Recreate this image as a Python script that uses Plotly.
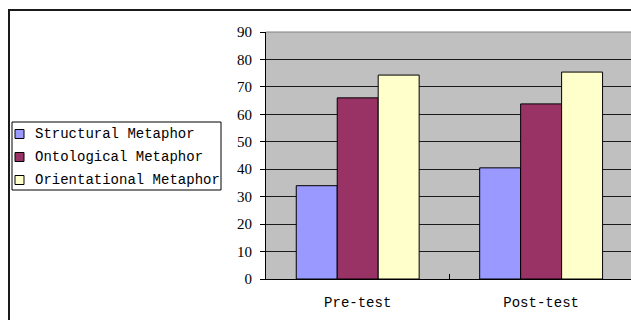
import plotly.graph_objects as go

categories = ["Pre-test", "Post-test"]
structural = [34, 40.5]
ontological = [66, 63.8]
orientational = [74.3, 75.4]
series_names = ["Structural Metaphor", "Ontological Metaphor", "Orientational Metaphor"]
series_values = [structural, ontological, orientational]
colors = ["#9999FF", "#993366", "#FFFFCC"]
y_ticks = [0, 10, 20, 30, 40, 50, 60, 70, 80, 90]

FONT = "Liberation Mono"

fig = go.Figure()
for name, vals, col in zip(series_names, series_values, colors):
    fig.add_trace(go.Bar(
        x=categories, y=vals, name=name,
        marker=dict(color=col, line=dict(color="#000000", width=1)),
        showlegend=False,
    ))

W, H = 631, 320
L, T, B = 266, 32, 320 - 279
pw = W - L
ph = H - T - B

def px_x(p):
    return (p - L) / pw

def px_y(p):
    return (H - B - p) / ph

shapes = [
    dict(type="rect", xref="paper", yref="paper",
         x0=px_x(9), x1=px_x(660), y0=px_y(340), y1=px_y(10),
         line=dict(color="#1a1a1a", width=2), fillcolor="rgba(0,0,0,0)",
         layer="above"),
    dict(type="line", xref="paper", yref="paper",
         x0=0, x1=1, y0=1, y1=1,
         line=dict(color="#808080", width=1), layer="above"),
    # legend box
    dict(type="rect", xref="paper", yref="paper",
         x0=px_x(12), x1=px_x(221), y0=px_y(190), y1=px_y(122),
         line=dict(color="#000000", width=1), fillcolor="white",
         layer="above"),
]
annotations = []
row_y = [134, 157, 180]
for name, col, ry in zip(series_names, colors, row_y):
    shapes.append(dict(type="rect", xref="paper", yref="paper",
                       x0=px_x(15), x1=px_x(24), y0=px_y(ry + 4.5), y1=px_y(ry - 4.5),
                       line=dict(color="#000000", width=1), fillcolor=col,
                       layer="above"))
    annotations.append(dict(xref="paper", yref="paper", x=px_x(33), y=px_y(ry),
                            xanchor="left", yanchor="middle", showarrow=False,
                            text=name, font=dict(family=FONT, size=14, color="#000000")))

fig.update_layout(
    width=W, height=H,
    margin=dict(l=L, r=0, t=T, b=B, pad=0),
    paper_bgcolor="white",
    plot_bgcolor="#C0C0C0",
    barmode="group",
    bargap=0.33,
    bargroupgap=0,
    font=dict(family=FONT, size=14, color="#000000"),
    showlegend=False,
    hovermode=False,
    xaxis=dict(
        range=[-0.5, 1.49],
        showgrid=False,
        showline=True, linecolor="#000000", linewidth=1,
        ticks="inside", ticklen=5, tickcolor="#000000",
        tickson="boundaries",
        tickfont=dict(family=FONT, size=14, color="#000000"),
        ticklabelstandoff=10,
        zeroline=False,
    ),
    yaxis=dict(
        range=[0, 90],
        tickvals=y_ticks,
        showgrid=True, gridcolor="#1a1a1a", gridwidth=1,
        showline=True, linecolor="#000000", linewidth=1,
        ticks="outside", ticklen=5, tickcolor="#000000",
        tickfont=dict(family="Liberation Serif", size=15, color="#000000"),
        ticklabelstandoff=5,
        zeroline=False,
    ),
    shapes=shapes,
    annotations=annotations,
)

fig.write_html(
    "out.html",
    config={"displayModeBar": False, "staticPlot": True},
    post_script="document.body.style.margin='0';document.body.style.overflow='hidden';",
)
